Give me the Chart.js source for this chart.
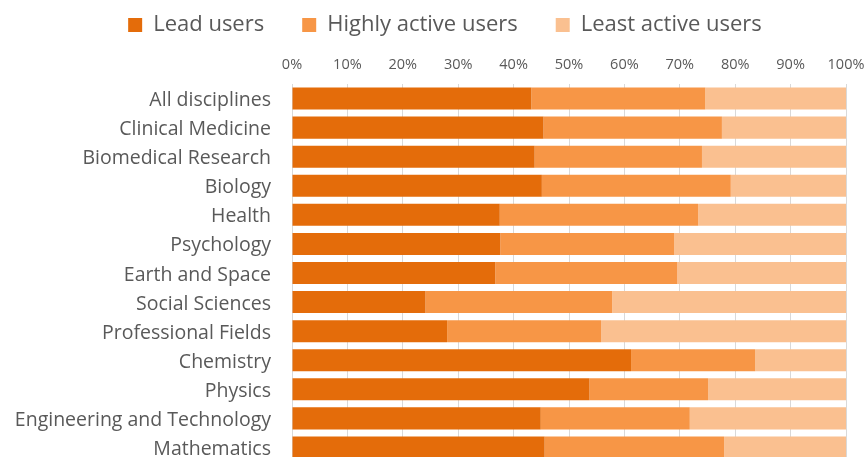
<!DOCTYPE html>
<html>
<head>
<meta charset="utf-8">
<script src="https://cdn.jsdelivr.net/npm/chart.js@4.4.0/dist/chart.umd.min.js"></script>
<style>
html, body { margin: 0; padding: 0; overflow: hidden; background: #ffffff; }
#wrap { position: relative; width: 890px; height: 486px; margin-top: -24px; }
</style>
</head>
<body>
<div id="wrap"><canvas id="c"></canvas></div>
<script>
const categories = ["All disciplines", "Clinical Medicine", "Biomedical Research", "Biology", "Health", "Psychology", "Earth and Space", "Social Sciences", "Professional Fields", "Chemistry", "Physics", "Engineering and Technology", "Mathematics"];
const leadUsers   = [43.2, 45.4, 43.8, 45.1, 37.5, 37.6, 36.7, 24.1, 28.0, 61.2, 53.7, 44.9, 45.6];
const highlyActive = [31.4, 32.2, 30.2, 34.1, 35.8, 31.4, 32.8, 33.7, 27.8, 22.4, 21.4, 26.9, 32.4];
const leastActive = [25.4, 22.4, 26.0, 20.8, 26.7, 31.0, 30.5, 42.2, 44.2, 16.4, 24.9, 28.2, 22.0];
const seriesNames = ["Lead users", "Highly active users", "Least active users"];
const xTicks = [0, 10, 20, 30, 40, 50, 60, 70, 80, 90, 100];

const textColor = "#595959";
const gridColor = "#D9D9D9";
const fontFamily = "'Open Sans', 'Noto Sans', sans-serif";

new Chart(document.getElementById("c"), {
  type: "bar",
  data: {
    labels: categories,
    datasets: [
      { label: seriesNames[0], data: leadUsers, backgroundColor: "#E46C0A" },
      { label: seriesNames[1], data: highlyActive, backgroundColor: "#F79646" },
      { label: seriesNames[2], data: leastActive, backgroundColor: "#FAC090" }
    ]
  },
  options: {
    indexAxis: "y",
    responsive: true,
    maintainAspectRatio: false,
    animation: false,
    datasets: { bar: { categoryPercentage: 1, barPercentage: 0.758, borderWidth: 0 } },
    layout: { padding: 0 },
    plugins: {
      tooltip: { enabled: false },
      legend: {
        position: "top",
        align: "center",
        labels: {
          color: textColor,
          font: { family: fontFamily, size: 22 },
          boxWidth: 14,
          boxHeight: 14,
          padding: 38
        }
      }
    },
    scales: {
      x: {
        position: "top",
        stacked: true,
        min: 0,
        max: 100,
        afterBuildTicks: s => { s.ticks = xTicks.map(v => ({ value: v })); },
        afterFit: s => { s.height = 38; s.paddingLeft = 0; s.paddingRight = 44; },
        ticks: {
          color: textColor,
          font: { family: fontFamily, size: 14.5 },
          padding: 10.5,
          callback: v => v + "%"
        },
        grid: { color: gridColor, lineWidth: 1, drawTicks: false },
        border: { display: false }
      },
      y: {
        stacked: true,
        afterFit: s => { s.width = 292; s.paddingTop = 0; s.paddingBottom = 0; },
        ticks: {
          color: textColor,
          font: { family: fontFamily, size: 19.5 },
          padding: 21,
          labelOffset: 2
        },
        grid: { display: false, drawTicks: false },
        border: { display: true, color: gridColor, width: 1 }
      }
    }
  }
});
</script>
</body>
</html>
